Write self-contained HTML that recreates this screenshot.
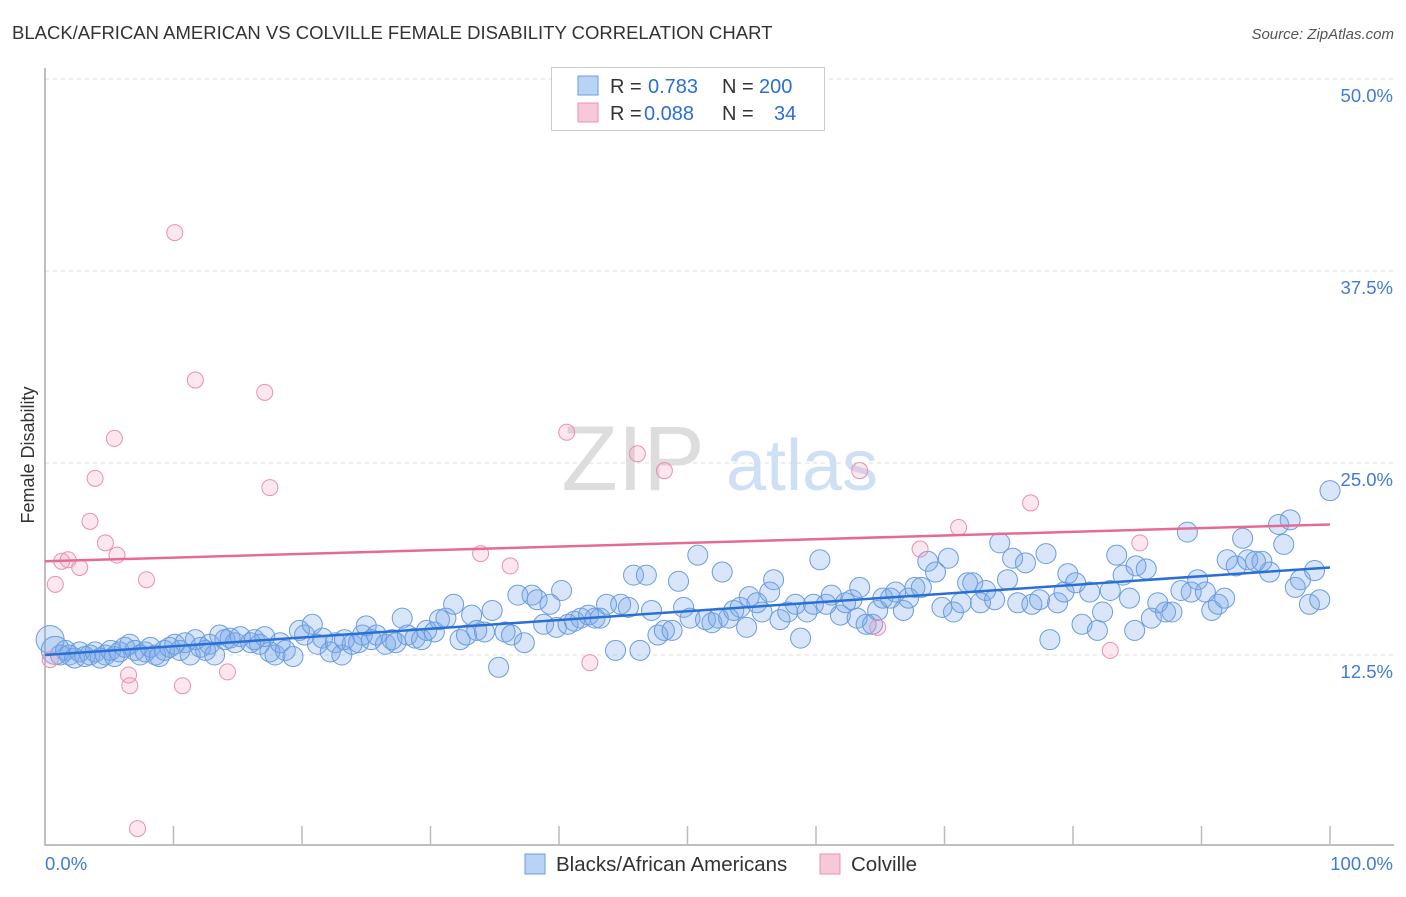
<!DOCTYPE html>
<html><head><meta charset="utf-8"><style>
body{margin:0;background:#fff;font-family:"Liberation Sans",sans-serif}
svg text{font-family:"Liberation Sans",sans-serif}
</style></head><body>
<svg id="c" width="1406" height="892">
<text x="12" y="39" font-size="18.5" fill="#333">BLACK/AFRICAN AMERICAN VS COLVILLE FEMALE DISABILITY CORRELATION CHART</text>
<text x="1394" y="39" font-size="15" fill="#555" text-anchor="end" font-style="italic">Source: ZipAtlas.com</text>
<text x="34" y="455" font-size="18" fill="#333" text-anchor="middle" transform="rotate(-90 34 455)">Female Disability</text>
<g><text x="633" y="490" font-size="92" fill="#ddd" text-anchor="middle" font-family="Liberation Serif">ZIP</text><text x="802" y="490" font-size="72" fill="#cfe0f5" text-anchor="middle">atlas</text></g>
<g id="grid"></g><g id="axes"></g><g id="pts"></g><g id="lines"></g>
<g>
<rect x="551.5" y="67.5" width="273" height="63" fill="#fff" stroke="#ccc"/>
<rect x="578" y="76" width="20" height="19" fill="#b9d3f5" stroke="#6a9ce0"/>
<rect x="578" y="103" width="20" height="19" fill="#f9c8d8" stroke="#e890ad"/>
<text x="610" y="93" font-size="20" fill="#333">R =</text>
<text x="648" y="93" font-size="20" fill="#2a6fd6">0.783</text>
<text x="722" y="93" font-size="20" fill="#333">N =</text>
<text x="759" y="93" font-size="20" fill="#2a6fd6">200</text>
<text x="610" y="120" font-size="20" fill="#333">R =</text>
<text x="644" y="120" font-size="20" fill="#2a6fd6">0.088</text>
<text x="722" y="120" font-size="20" fill="#333">N =</text>
<text x="774" y="120" font-size="20" fill="#2a6fd6">34</text>
</g>
<g>
<rect x="525" y="854" width="20" height="20" fill="#b9d3f5" stroke="#6a9ce0"/>
<text x="556" y="871" font-size="20.5" fill="#333">Blacks/African Americans</text>
<rect x="820" y="854" width="20" height="20" fill="#f9c8d8" stroke="#e890ad"/>
<text x="851" y="871" font-size="20.5" fill="#333">Colville</text>
</g>
</svg>
<script>
const yTicks=[12.5,25,37.5,50];
const yTickLabels=["12.5%","25.0%","37.5%","50.0%"];
const blueX=[0.4,0.8,1.2,1.6,1.9,2.3,2.7,3.1,3.5,3.9,4.3,4.7,5.1,5.4,5.8,6.2,6.6,7.0,7.4,7.8,8.2,8.6,8.9,9.3,9.7,10.1,10.5,10.9,11.3,11.7,12.1,12.5,12.8,13.2,13.6,14.0,14.4,14.8,15.2,16.0,16.3,16.7,17.1,17.5,17.9,18.3,18.7,19.3,19.8,20.2,20.8,21.2,21.6,22.2,22.6,23.1,23.3,23.9,24.4,24.7,25.0,25.4,25.8,26.5,27.0,27.3,27.8,28.2,28.8,29.3,29.7,30.3,30.7,31.2,31.8,32.3,32.8,33.2,33.6,34.2,34.8,35.3,35.8,36.3,36.8,37.3,37.9,38.3,38.8,39.3,39.8,40.2,40.7,41.2,41.7,42.3,42.8,43.2,43.7,44.4,44.8,45.4,45.8,46.3,46.8,47.2,47.7,48.2,48.8,49.3,49.7,50.2,50.8,51.4,51.9,52.4,52.7,53.2,53.6,54.1,54.6,54.8,55.4,55.8,56.4,56.7,57.2,57.8,58.4,58.8,59.3,59.8,60.3,60.8,61.2,61.9,62.3,62.8,63.2,63.4,63.9,64.4,64.8,65.2,65.8,66.2,66.8,67.2,67.7,68.2,68.7,69.3,69.8,70.3,70.7,71.3,71.8,72.2,72.8,73.2,73.9,74.3,74.9,75.3,75.7,76.3,76.8,77.4,77.9,78.2,78.8,79.3,79.6,80.2,80.7,81.3,81.9,82.3,82.9,83.4,83.9,84.4,84.9,84.8,85.7,86.1,86.6,87.2,87.7,88.4,88.9,89.2,89.7,90.3,90.8,91.3,91.8,92.0,92.7,93.2,93.6,94.2,94.7,95.3,96.0,96.4,96.9,97.3,97.7,98.4,98.8,99.2,100];
const blueY=[13.5,12.8,12.5,12.8,12.5,12.3,12.7,12.4,12.5,12.7,12.3,12.5,12.8,12.4,12.7,13.0,13.2,12.8,12.5,12.7,13.0,12.5,12.4,12.8,13.0,13.2,12.8,13.3,12.5,13.5,13.0,12.8,13.2,12.5,13.8,13.5,13.6,13.3,13.7,13.3,13.5,13.2,13.7,12.7,12.5,13.3,12.8,12.4,14.1,13.8,14.5,13.2,13.6,12.7,13.3,12.5,13.5,13.2,13.3,13.8,14.4,13.5,13.8,13.2,13.5,13.3,14.9,13.8,13.6,13.5,14.1,14.0,14.8,14.9,15.8,13.5,13.8,15.1,14.1,14.0,15.4,11.7,14.0,13.8,16.4,13.3,16.4,16.1,14.5,15.8,14.3,16.7,14.5,14.7,14.9,15.1,14.9,14.9,15.8,12.8,15.8,15.6,17.7,12.8,17.7,15.4,13.8,14.1,14.1,17.3,15.6,14.9,19.0,14.8,14.6,14.9,17.9,14.9,15.4,15.6,14.3,16.3,15.9,15.3,16.6,17.4,14.8,15.3,15.8,13.6,15.3,15.8,18.7,15.8,16.4,15.1,15.9,16.1,14.9,16.9,14.5,14.5,15.4,16.2,16.2,16.6,15.4,16.2,16.9,16.9,18.6,17.9,15.6,18.8,15.3,15.9,17.2,17.2,15.9,16.7,16.1,19.8,17.4,18.8,15.9,18.5,15.8,16.1,19.1,13.5,15.9,16.6,17.8,17.2,14.5,16.6,14.1,15.3,16.7,19.0,17.7,16.2,18.3,14.1,18.1,14.9,15.9,15.3,15.3,16.7,20.5,16.6,17.4,16.6,15.4,15.8,16.2,18.7,18.3,20.1,18.7,18.6,18.6,17.9,21.0,19.7,21.3,16.9,17.4,15.8,18.0,16.1,23.2];
const pinkX=[0.4,0.8,1.3,1.8,2.7,3.5,3.9,4.7,5.4,5.6,6.5,6.6,7.2,7.9,10.1,10.7,11.7,14.2,17.1,17.5,33.9,36.2,40.6,42.4,46.1,48.2,63.4,64.8,68.1,71.1,76.7,82.9,85.2];
const pinkY=[12.2,17.1,18.6,18.7,18.2,21.2,24.0,19.8,26.6,19.0,11.2,10.5,1.2,17.4,40.0,10.5,30.4,11.4,29.6,23.4,19.1,18.3,27.0,12.0,25.6,24.5,24.5,14.3,19.4,20.8,22.4,12.8,19.8];
const blueTrend=[12.5,18.2];
const pinkTrend=[18.6,21.0];
const NS="http://www.w3.org/2000/svg";
const X0=45,X1=1330,Y0=847,PPU=15.36;
const sx=v=>X0+(X1-X0)*v/100, sy=v=>Y0-v*PPU;
function mk(tag,attrs,parent){const e=document.createElementNS(NS,tag);for(const k in attrs)e.setAttribute(k,attrs[k]);document.getElementById(parent).appendChild(e);return e;}
yTicks.forEach((t,i)=>{
 const l=mk('line',{x1:X0,x2:1394,y1:sy(t),y2:sy(t),stroke:'#ddd','stroke-dasharray':'4 4'},'grid');
 
 
 const tx=mk('text',{x:1393,y:sy(t)+23,'font-size':18.5,fill:'#3f7bd8','text-anchor':'end'},'grid');
 tx.textContent=yTickLabels[i];
 
 
});
const ax=mk('path',{d:`M${X0} 68V845H1394`,stroke:'#aaa',fill:'none','stroke-width':1.5},'axes');


for(let i=1;i<=10;i++){const t=mk('line',{x1:sx(i*10),x2:sx(i*10),y1:826,y2:845,stroke:'#bbb','stroke-width':1.5},'axes');
 
 }
const xl=mk('text',{x:45,y:870,'font-size':18.5,fill:'#3f7bd8'},'axes');xl.textContent='0.0%';


const xr=mk('text',{x:1393,y:870,'font-size':18.5,fill:'#3f7bd8','text-anchor':'end'},'axes');xr.textContent='100.0%';


blueX.forEach((v,i)=>{const c=mk('circle',{cx:sx(v),cy:sy(blueY[i]),r:i<2?14:10,fill:'rgba(120,165,232,0.28)',stroke:'#6a9ce0','stroke-width':1},'pts');
 
 });
pinkX.forEach((v,i)=>{const c=mk('circle',{cx:sx(v),cy:sy(pinkY[i]),r:8,fill:'rgba(245,160,190,0.25)',stroke:'#e890ad','stroke-width':1},'pts');
 
 });
const bl=mk('line',{x1:sx(0),x2:sx(100),y1:sy(blueTrend[0]),y2:sy(blueTrend[1]),stroke:'#2a6fd6','stroke-width':2.5},'lines');


const pl=mk('line',{x1:sx(0),x2:sx(100),y1:sy(pinkTrend[0]),y2:sy(pinkTrend[1]),stroke:'#e56b94','stroke-width':2.5},'lines');


</script>
</body></html>
